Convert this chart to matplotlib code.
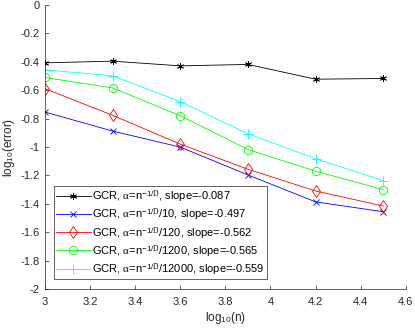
import numpy as np
import matplotlib
matplotlib.use('Agg')
import matplotlib.pyplot as plt

plt.rcParams['font.family'] = ['Liberation Sans', 'DejaVu Sans']
plt.rcParams['mathtext.fontset'] = 'custom'
plt.rcParams['mathtext.rm'] = 'Liberation Sans'
plt.rcParams['mathtext.it'] = 'Liberation Serif'
plt.rcParams['mathtext.bf'] = 'Liberation Sans:bold'

# log10(n)
x = [3.0, 3.3, 3.6, 3.9, 4.2, 4.5]

# log10(error) per alpha choice
err_a1 = [-0.408, -0.396, -0.429, -0.419, -0.523, -0.518]
err_a10 = [-0.754, -0.888, -1.001, -1.197, -1.387, -1.456]
err_a120 = [-0.589, -0.777, -0.980, -1.157, -1.310, -1.416]
err_a1200 = [-0.511, -0.584, -0.780, -1.018, -1.171, -1.300]
err_a12000 = [-0.457, -0.499, -0.681, -0.907, -1.083, -1.237]

labels = ['GCR, $\\alpha$=n$^{-1/D}$, slope=-0.087',
          'GCR, $\\alpha$=n$^{-1/D}$/10, slope=-0.497',
          'GCR, $\\alpha$=n$^{-1/D}$/120, slope=-0.562',
          'GCR, $\\alpha$=n$^{-1/D}$/1200, slope=-0.565',
          'GCR, $\\alpha$=n$^{-1/D}$/12000, slope=-0.559']

fig = plt.figure(figsize=(4.15, 3.28), dpi=100)
ax = fig.add_axes([0.108, 0.119, 0.870, 0.866])

gray = '#262626'
ax.plot(x, err_a1, color='k', lw=0.6, marker=(6, 2, 0), ms=5, mew=0.6, label=labels[0])
ax.plot(x, err_a10, color='b', lw=0.6, marker='x', ms=4.5, mew=0.6, label=labels[1])
ax.plot(x, err_a120, color='r', lw=0.6, marker='d', ms=6, mew=0.6, mfc='none', label=labels[2])
ax.plot(x, err_a1200, color=(0, 1, 0), lw=0.6, marker='o', ms=6, mew=0.6, mfc='none', label=labels[3])
ax.plot(x, err_a12000, color=(0, 1, 1), lw=0.6, marker='+', ms=6.5, mew=0.6, label=labels[4])

ax.set_xlim(3, 4.6)
ax.set_ylim(-2, 0)
ax.set_xticks(np.arange(3, 4.61, 0.2))
ax.set_yticks(np.arange(-2, 0.01, 0.2))
ax.set_xticklabels(['3', '3.2', '3.4', '3.6', '3.8', '4', '4.2', '4.4', '4.6'])
ax.set_yticklabels(['-2', '-1.8', '-1.6', '-1.4', '-1.2', '-1', '-0.8', '-0.6', '-0.4', '-0.2', '0'])
ax.tick_params(direction='in', length=3, width=0.5, colors=gray, labelsize=8, pad=4)
ax.tick_params(axis='x', pad=6)
ax.spines['top'].set_visible(False)
ax.spines['right'].set_visible(False)
for s in ['left', 'bottom']:
    ax.spines[s].set_color(gray)
    ax.spines[s].set_linewidth(0.5)

ax.set_xlabel('log$_{10}$(n)', fontsize=8.5, color=gray, labelpad=2)
ax.set_ylabel('log$_{10}$(error)', fontsize=8.5, color=gray, labelpad=2)

leg = ax.legend(loc='lower left', bbox_to_anchor=(0.025, 0.035), fontsize=8,
                frameon=True, fancybox=False, framealpha=1, edgecolor=gray,
                handlelength=3.1, handletextpad=0.15, borderpad=0.2, labelspacing=0.2,
                borderaxespad=0)
leg.get_frame().set_linewidth(0.5)

fig.savefig('out.png', dpi=100)
